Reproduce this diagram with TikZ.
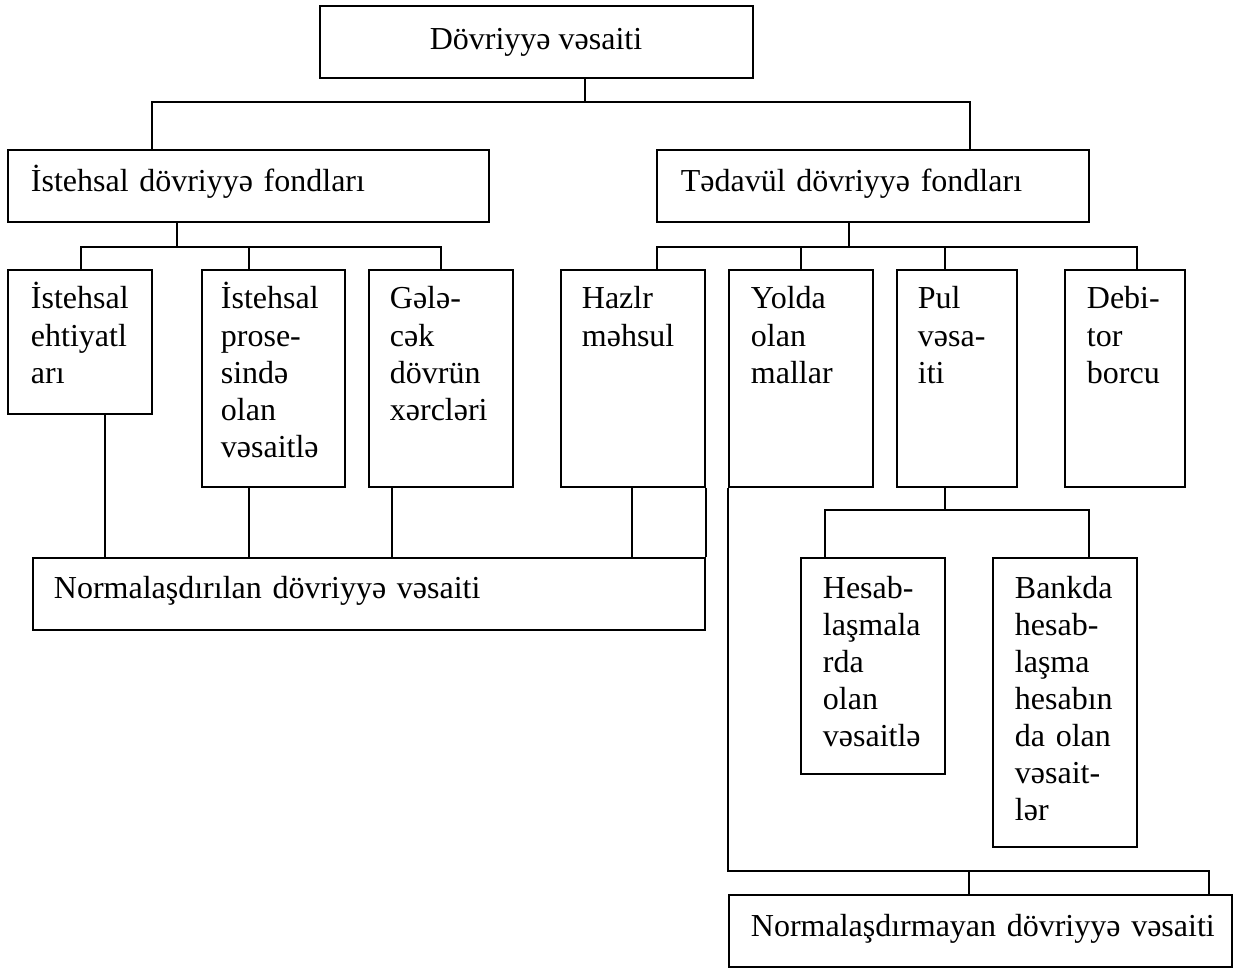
\documentclass[tikz,border=0pt]{standalone}
\usepackage{fontspec}
\setmainfont{Liberation Serif}
\usetikzlibrary{fit}
\begin{document}
\begin{tikzpicture}[x=0.5pt,y=-0.5pt,line width=0.9pt,
  box/.style={draw,inner sep=0pt},
  txt/.style={anchor=base west,inner sep=0pt,text width=400pt,align=left,font=\fontsize{16}{18.55}\selectfont},
  txtc/.style={anchor=base,inner sep=0pt,font=\fontsize{16}{18.55}\selectfont}]
\useasboundingbox (0,0) rectangle (1243,968);
% boxes
\node[box,fit={(320,6)(753,78)}] (top) {};
\node[txtc] (topT) at (536,50) {Dövriyyə vəsaiti};
\node[box,fit={(8,150)(489,222)}] (ist) {};
\node[txt] (istT) at (30,192) {İstehsal dövriyyə fondları};
\node[box,fit={(657,150)(1089,222)}] (tad) {};
\node[txt] (tadT) at (680,192) {Tədavül dövriyyə fondları};
\node[box,fit={(8,270)(152,414)}] (b1) {};
\node[txt] (b1T) at (30,309) {İstehsal\\ehtiyatl\\arı};
\node[box,fit={(202,270)(345,487)}] (b2) {};
\node[txt] (b2T) at (220,309) {İstehsal\\prose-\\sində\\olan\\vəsaitlə};
\node[box,fit={(369,270)(513,487)}] (b3) {};
\node[txt] (b3T) at (389,309) {Gələ-\\cək\\dövrün\\xərcləri};
\node[box,fit={(561,270)(705,487)}] (b4) {};
\node[txt] (b4T) at (581,309) {Hazlr\\məhsul};
\node[box,fit={(729,270)(873,487)}] (b5) {};
\node[txt] (b5T) at (750,309) {Yolda\\olan\\mallar};
\node[box,fit={(897,270)(1017,487)}] (b6) {};
\node[txt] (b6T) at (917,309) {Pul\\vəsa-\\iti};
\node[box,fit={(1065,270)(1185,487)}] (b7) {};
\node[txt] (b7T) at (1086,309) {Debi-\\tor\\borcu};
\node[box,fit={(33,558)(705,630)}] (n1) {};
\node[txt] (n1T) at (53,598) {Normalaşdırılan dövriyyə vəsaiti};
\node[box,fit={(801,558)(945,774)}] (hes) {};
\node[txt] (hesT) at (822,598) {Hesab-\\laşmala\\rda\\olan\\vəsaitlə};
\node[box,fit={(993,558)(1137,847)}] (bank) {};
\node[txt] (bankT) at (1014,598) {Bankda\\hesab-\\laşma\\hesabın\\da olan\\vəsait-\\lər};
\node[box,fit={(729,895)(1232,967)}] (n2) {};
\node[txt] (n2T) at (750,936) {Normalaşdırmayan dövriyyə vəsaiti};
% connectors level 1
\coordinate (j0) at (585,102);
\coordinate (xa) at (152,0);
\coordinate (xb) at (970,0);
\draw (top.south -| j0) -- (j0);
\draw (ist.north -| xa) |- (j0) -| (tad.north -| xb);
% istehsal children
\coordinate (j1) at (177,247);
\coordinate (k1) at (81,247);
\coordinate (k2) at (249,247);
\coordinate (k3) at (441,247);
\draw (ist.south -| j1) -- (j1);
\draw (b1.north -| k1) -- (k1) -- (k3) -- (b3.north -| k3);
\draw (k2) -- (b2.north -| k2);
% tadavul children
\coordinate (j2) at (849,247);
\coordinate (m1) at (657,247);
\coordinate (m2) at (801,247);
\coordinate (m3) at (945,247);
\coordinate (m4) at (1137,247);
\draw (tad.south -| j2) -- (j2);
\draw (b4.north -| m1) -- (m1) -- (m4) -- (b7.north -| m4);
\draw (m2) -- (b5.north -| m2);
\draw (m3) -- (b6.north -| m3);
% to normalasdirilan
\coordinate (p1) at (105,0);
\coordinate (p2) at (249,0);
\coordinate (p3) at (392,0);
\coordinate (p4) at (632,0);
\draw (b1.south -| p1) -- (n1.north -| p1);
\draw (b2.south -| p2) -- (n1.north -| p2);
\draw (b3.south -| p3) -- (n1.north -| p3);
\draw (b4.south -| p4) -- (n1.north -| p4);
\draw (b4.south east) -- (n1.north east);
% pul children
\coordinate (q0) at (945,510);
\coordinate (q1) at (825,510);
\coordinate (q2) at (1089,510);
\draw (b6.south -| q0) -- (q0);
\draw (hes.north -| q1) |- (q2) -- (bank.north -| q2);
% to normalasdirmayan
\coordinate (r1) at (969,871);
\coordinate (r2) at (1209,871);
\draw (b5.south west) |- (r2) -- (n2.north -| r2);
\draw (r1) -- (n2.north -| r1);
\end{tikzpicture}
\end{document}
